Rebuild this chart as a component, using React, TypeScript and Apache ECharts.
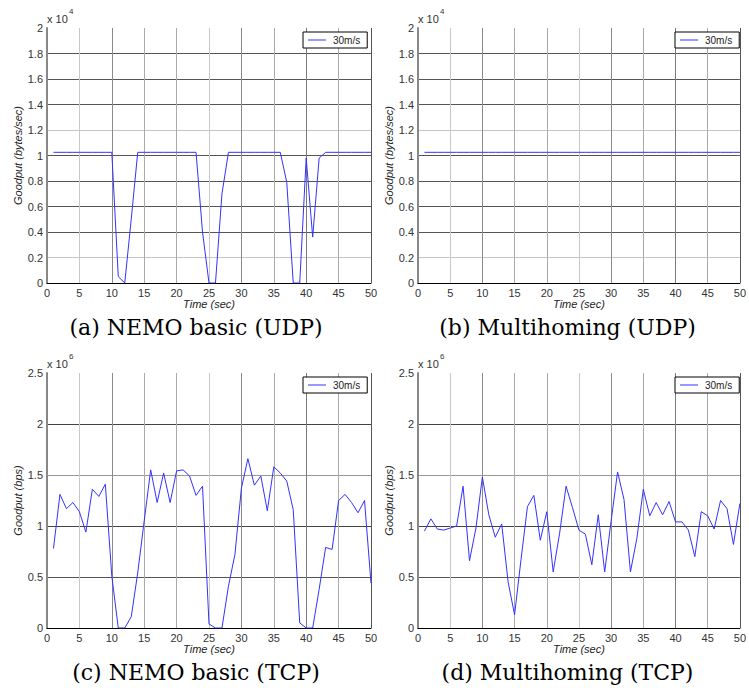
import React, { useEffect, useRef } from "react";
import * as echarts from "echarts";

// Time (sec)
const timeSec = [
  1, 2, 3, 4, 5, 6, 7, 8, 9, 10, 11, 12, 13, 14, 15, 16, 17, 18, 19, 20, 21, 22, 23, 24, 25,
  26, 27, 28, 29, 30, 31, 32, 33, 34, 35, 36, 37, 38, 39, 40, 41, 42, 43, 44, 45, 46, 47, 48, 49, 50,
];

// (a) NEMO basic (UDP), goodput x 10^4 bytes/sec
const nemoUdp = [
  1.025, 1.025, 1.025, 1.025, 1.025, 1.025, 1.025, 1.025, 1.025, 1.025,
  0.05, 0, 0.5, 1.025, 1.025, 1.025, 1.025, 1.025, 1.025, 1.025,
  1.025, 1.025, 1.025, 0.4, 0, 0, 0.7, 1.025, 1.025, 1.025,
  1.025, 1.025, 1.025, 1.025, 1.025, 1.025, 0.79, 0, 0, 0.98,
  0.36, 0.98, 1.025, 1.025, 1.025, 1.025, 1.025, 1.025, 1.025, 1.025,
];

// (b) Multihoming (UDP), goodput x 10^4 bytes/sec
const multiUdp = [
  1.025, 1.025, 1.025, 1.025, 1.025, 1.025, 1.025, 1.025, 1.025, 1.025,
  1.025, 1.025, 1.025, 1.025, 1.025, 1.025, 1.025, 1.025, 1.025, 1.025,
  1.025, 1.025, 1.025, 1.025, 1.025, 1.025, 1.025, 1.025, 1.025, 1.025,
  1.025, 1.025, 1.025, 1.025, 1.025, 1.025, 1.025, 1.025, 1.025, 1.025,
  1.025, 1.025, 1.025, 1.025, 1.025, 1.025, 1.025, 1.025, 1.025, 1.025,
];

// (c) NEMO basic (TCP), goodput x 10^6 bps
const nemoTcp = [
  0.78, 1.31, 1.17, 1.23, 1.14, 0.94, 1.36, 1.29, 1.41, 0.51,
  0, 0, 0.11, 0.54, 1.05, 1.55, 1.23, 1.52, 1.23, 1.54,
  1.55, 1.49, 1.3, 1.39, 0.04, 0, 0, 0.41, 0.72, 1.37,
  1.66, 1.4, 1.49, 1.15, 1.58, 1.52, 1.44, 1.16, 0.05, 0,
  0, 0.38, 0.79, 0.77, 1.25, 1.31, 1.23, 1.13, 1.25, 0.44,
];

// (d) Multihoming (TCP), goodput x 10^6 bps
const multiTcp = [
  0.95, 1.07, 0.97, 0.96, 0.98, 1.0, 1.39, 0.66, 0.98, 1.48,
  1.11, 0.89, 1.02, 0.45, 0.13, 0.67, 1.19, 1.3, 0.86, 1.14,
  0.55, 0.93, 1.39, 1.18, 0.96, 0.92, 0.62, 1.11, 0.55, 1.05,
  1.53, 1.26, 0.55, 0.88, 1.36, 1.1, 1.23, 1.11, 1.24, 1.04,
  1.04, 0.96, 0.7, 1.14, 1.1, 0.97, 1.25, 1.17, 0.82, 1.22,
];

const captions = ["(a) NEMO basic (UDP)", "(b) Multihoming (UDP)", "(c) NEMO basic (TCP)", "(d) Multihoming (TCP)"];
const yNames = ["Goodput (bytes/sec)", "Goodput (bytes/sec)", "Goodput (bps)", "Goodput (bps)"];
const exponents = ["4", "4", "6", "6"];
const seriesName = "30m/s";
const xName = "Time (sec)";

export default function App() {
  const ref = useRef<HTMLDivElement>(null);
  useEffect(() => {
    if (!ref.current) return;
    const chart = echarts.init(ref.current, undefined, { renderer: "svg" });
    const panels = [
      { left: 47, top: 28, width: 324, data: nemoUdp, max: 2, interval: 0.2 },
      { left: 418, top: 28, width: 325, data: multiUdp, max: 2, interval: 0.2 },
      { left: 47, top: 373, width: 324, data: nemoTcp, max: 2.5, interval: 0.5 },
      { left: 418, top: 373, width: 325, data: multiTcp, max: 2.5, interval: 0.5 },
    ];
    const H = 255;
    const sans = "Liberation Sans";
    const vColors = ["#888", "#c8c8c8", "#8a8a8a", "#aaa", "#aaa", "#c8c8c8", "#8a8a8a", "#aaa", "#7a7a7a", "#aaa", "#555"];
    const hColorsUdp = ["#000", "#c4c4c4", "#555", "#555", "#555", "#555", "#c4c4c4", "#555", "#555", "#555", "transparent"];
    const hColorsTcp = ["#000", "#555", "#444", "#999", "#444", "transparent"];

    const grid: any[] = [];
    const xAxis: any[] = [];
    const yAxis: any[] = [];
    const series: any[] = [];
    const legend: any[] = [];
    const graphic: any[] = [];

    panels.forEach((p, i) => {
      grid.push({ left: p.left, top: p.top, width: p.width, height: H, containLabel: false });
      xAxis.push({
        type: "value",
        gridIndex: i,
        min: 0,
        max: 50,
        interval: 5,
        name: xName,
        nameLocation: "middle",
        nameGap: 15,
        nameTextStyle: { fontFamily: sans, fontSize: 11, fontStyle: "italic", color: "#222" },
        axisLine: { show: true, lineStyle: { color: "#000", width: 1 } },
        axisTick: { show: false },
        axisLabel: { fontFamily: sans, fontSize: 11, color: "#333", margin: 4 },
        splitLine: { show: true, lineStyle: { color: vColors, width: 1 } },
      });
      yAxis.push({
        type: "value",
        gridIndex: i,
        min: 0,
        max: p.max,
        interval: p.interval,
        name: yNames[i],
        nameLocation: "middle",
        nameGap: 21,
        nameTextStyle: { fontFamily: sans, fontSize: 11, fontStyle: "italic", color: "#222" },
        axisLine: { show: true, lineStyle: { color: "#888", width: 2 } },
        axisTick: { show: false },
        axisLabel: { fontFamily: sans, fontSize: 11, color: "#333", margin: 4 },
        splitLine: { show: true, lineStyle: { color: p.max === 2 ? hColorsUdp : hColorsTcp, width: 1 } },
      });
      series.push({
        type: "line",
        name: seriesName,
        xAxisIndex: i,
        yAxisIndex: i,
        symbol: "none",
        data: timeSec.map((t, k) => [t, p.data[k]]),
        lineStyle: { color: "#3232ff", width: 1 },
        itemStyle: { color: "#3232ff" },
      });
      legend.push({
        data: [seriesName],
        left: p.left + p.width - 68,
        top: p.top + 4,
        orient: "vertical",
        icon: "rect",
        backgroundColor: "#fff",
        borderColor: "#000",
        borderWidth: 1,
        borderRadius: 0,
        padding: [3, 7, 3, 5],
        itemWidth: 18,
        itemHeight: 1,
        itemGap: 0,
        textStyle: { fontFamily: sans, fontSize: 10, color: "#222", padding: [0, 0, 0, 2], lineHeight: 10 },
      });
      graphic.push({
        type: "text",
        left: p.left,
        top: p.top - 15,
        style: { text: "x 10", fontFamily: sans, fontSize: 11, fill: "#333" },
      });
      graphic.push({
        type: "text",
        left: p.left + 22,
        top: p.top - 21,
        style: { text: exponents[i], fontFamily: sans, fontSize: 8, fill: "#333" },
      });
      graphic.push({
        type: "text",
        x: p.left + p.width / 2 - 13,
        y: p.top + H + 44,
        style: {
          text: captions[i],
          fontFamily: "DejaVu Serif",
          fontSize: 22,
          fill: "#000",
          align: "center",
          verticalAlign: "middle",
        },
      });
    });

    chart.setOption({
      animation: false,
      backgroundColor: "#fff",
      grid,
      xAxis,
      yAxis,
      series,
      legend,
      graphic,
    });
    return () => chart.dispose();
  }, []);
  return <div ref={ref} style={{ position: "absolute", left: 0, top: 0, width: 749, height: 688 }} />;
}
